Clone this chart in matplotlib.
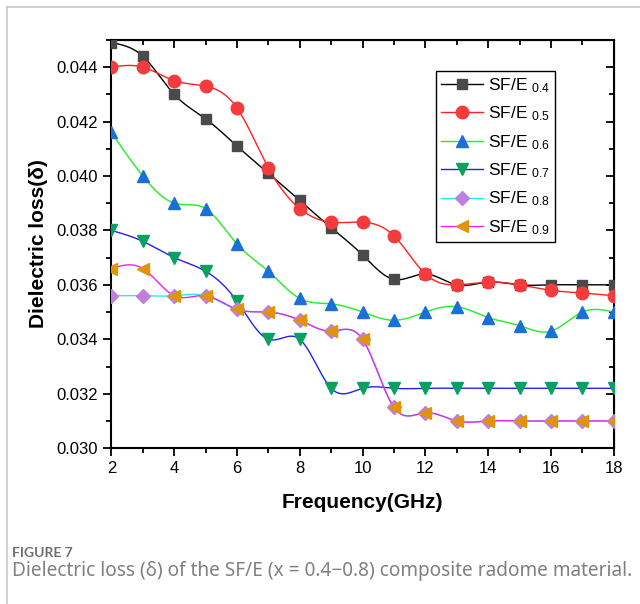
import matplotlib
matplotlib.use("Agg")
import matplotlib.pyplot as plt
import numpy as np

plt.rcParams['font.family'] = ['Liberation Sans', 'DejaVu Sans']
plt.rcParams['mathtext.fontset'] = 'custom'
plt.rcParams['mathtext.rm'] = 'Liberation Sans'
plt.rcParams['mathtext.default'] = 'regular'

freq = [2, 3, 4, 5, 6, 7, 8, 9, 10, 11, 12, 13, 14, 15, 16, 17, 18]

sfe_04 = [0.0449, 0.0444, 0.0430, 0.0421, 0.0411, 0.0401, 0.0391, 0.0381, 0.0371,
          0.0362, 0.0364, 0.0360, 0.0361, 0.0360, 0.0360, 0.0360, 0.0360]
sfe_05 = [0.0440, 0.0440, 0.0435, 0.0433, 0.0425, 0.0403, 0.0388, 0.0383, 0.0383,
          0.0378, 0.0364, 0.0360, 0.0361, 0.0360, 0.0358, 0.0357, 0.0356]
sfe_06 = [0.0416, 0.0400, 0.0390, 0.0388, 0.0375, 0.0365, 0.0355, 0.0353, 0.0350,
          0.0347, 0.0350, 0.0352, 0.0348, 0.0345, 0.0343, 0.0350, 0.0350]
sfe_07 = [0.0380, 0.0376, 0.0370, 0.0365, 0.0354, 0.0340, 0.0340, 0.0322, 0.0322,
          0.0322, 0.0322, 0.0322, 0.0322, 0.0322, 0.0322, 0.0322, 0.0322]
sfe_08 = [0.0356, 0.0356, 0.0356, 0.0356, 0.0351, 0.0350, 0.0347, 0.0343, 0.0340,
          0.0315, 0.0313, 0.0310, 0.0310, 0.0310, 0.0310, 0.0310, 0.0310]
sfe_09 = [0.0366, 0.0366, 0.0356, 0.0356, 0.0351, 0.0350, 0.0347, 0.0343, 0.0340,
          0.0315, 0.0313, 0.0310, 0.0310, 0.0310, 0.0310, 0.0310, 0.0310]

labels = ['0.4', '0.5', '0.6', '0.7', '0.8', '0.9']


def spline(x, y, n=400):
    # natural cubic spline, only used for the smooth connecting line
    x = np.asarray(x, float)
    y = np.asarray(y, float)
    h = np.diff(x)
    k = len(x)
    A = np.zeros((k, k))
    b = np.zeros(k)
    A[0, 0] = A[-1, -1] = 1
    for i in range(1, k - 1):
        A[i, i - 1] = h[i - 1]
        A[i, i] = 2 * (h[i - 1] + h[i])
        A[i, i + 1] = h[i]
        b[i] = 6 * ((y[i + 1] - y[i]) / h[i] - (y[i] - y[i - 1]) / h[i - 1])
    m = np.linalg.solve(A, b)
    xs = np.linspace(x[0], x[-1], n)
    j = np.clip(np.searchsorted(x, xs) - 1, 0, k - 2)
    t0 = xs - x[j]
    t1 = x[j + 1] - xs
    hj = h[j]
    ys = (m[j] * t1 ** 3 + m[j + 1] * t0 ** 3) / (6 * hj) \
        + (y[j] / hj - m[j] * hj / 6) * t1 + (y[j + 1] / hj - m[j + 1] * hj / 6) * t0
    return xs, ys


series = [sfe_04, sfe_05, sfe_06, sfe_07, sfe_08, sfe_09]
line_colors = ['#000000', '#ff2020', '#22ee22', '#2222ee', '#22eeee', '#ee22ee']
marker_colors = ['#4a4a4a', '#f43c3c', '#1a6fd8', '#0aa060', '#c07ee0', '#e09406']
markers = ['s', 'o', '^', 'v', 'D', '<']
msizes = [7.5, 9, 9, 9, 7, 9]

fig = plt.figure(figsize=(6.4, 6.04), dpi=100)
ax = fig.add_axes([0.174, 0.258, 0.785, 0.676])

for ys, lc, mc, mk, ms, lab in zip(series, line_colors, marker_colors, markers, msizes, labels):
    sx, sy = spline(freq, ys)
    ax.plot(sx, sy, color=lc, lw=1.0, zorder=2)
    ax.plot(freq, ys, ls='none', marker=mk, ms=ms, color=mc, mec=mc, zorder=3)
    ax.plot([], [], color=lc, lw=1.0, marker=mk, ms=ms, mfc=mc, mec=mc,
            label='SF/E $_{' + lab + '}$')

ax.set_xlim(2, 18)
ax.set_ylim(0.030, 0.045)
ax.set_xticks(range(2, 19, 2))
ax.set_xticks(range(3, 18, 2), minor=True)
ax.set_yticks(np.arange(0.030, 0.0445, 0.002))
ax.set_yticks(np.arange(0.031, 0.0455, 0.002), minor=True)
ax.yaxis.set_major_formatter(matplotlib.ticker.FormatStrFormatter('%.3f'))

for s in ax.spines.values():
    s.set_linewidth(1.5)
ax.tick_params(which='both', direction='out', width=1.3, labelsize=12)
ax.tick_params(which='major', length=6)
ax.tick_params(which='minor', length=3.5)

top = ax.secondary_xaxis('top')
top.set_xticks(range(2, 19, 2))
top.set_xticks(range(3, 18, 2), minor=True)
top.tick_params(which='both', direction='in', width=1.3, labeltop=False)
top.tick_params(which='major', length=6)
top.tick_params(which='minor', length=3.5)
right = ax.secondary_yaxis('right')
right.set_yticks(np.arange(0.030, 0.0445, 0.002))
right.set_yticks(np.arange(0.031, 0.0455, 0.002), minor=True)
right.tick_params(which='both', direction='in', width=1.3, labelright=False)
right.tick_params(which='major', length=6)
right.tick_params(which='minor', length=3.5)

ax.set_xlabel('Frequency(GHz)', fontsize=15, fontweight='bold', labelpad=12)
ax.set_ylabel('Dielectric loss(δ)', fontsize=15, fontweight='bold', labelpad=6)

leg = ax.legend(loc='upper left', bbox_to_anchor=(0.646, 0.924), borderaxespad=0,
                fontsize=12.5, handlelength=2.4, labelspacing=0.56, fancybox=False,
                edgecolor='black', framealpha=1, borderpad=0.3, handletextpad=0.3)
leg.get_frame().set_linewidth(1.0)

# page frame and caption
fig.add_artist(plt.Line2D([0.011, 1.0], [0.988, 0.988], color='#c8c8c8', lw=1.2))
fig.add_artist(plt.Line2D([0.011, 0.011], [0.0, 0.988], color='#c8c8c8', lw=1.2))
fig.text(0.019, 0.077, 'FIGURE 7', fontsize=10, color='#707070', fontweight='bold',
         family=['Lato', 'DejaVu Sans'], va='baseline')
fig.text(0.019, 0.047, 'Dielectric loss (δ) of the SF/E (x = 0.4\u22120.8) composite radome material.',
         fontsize=13.7, color='#808080', family=['Noto Sans', 'DejaVu Sans'], va='baseline')

fig.savefig('out.png', dpi=100)
